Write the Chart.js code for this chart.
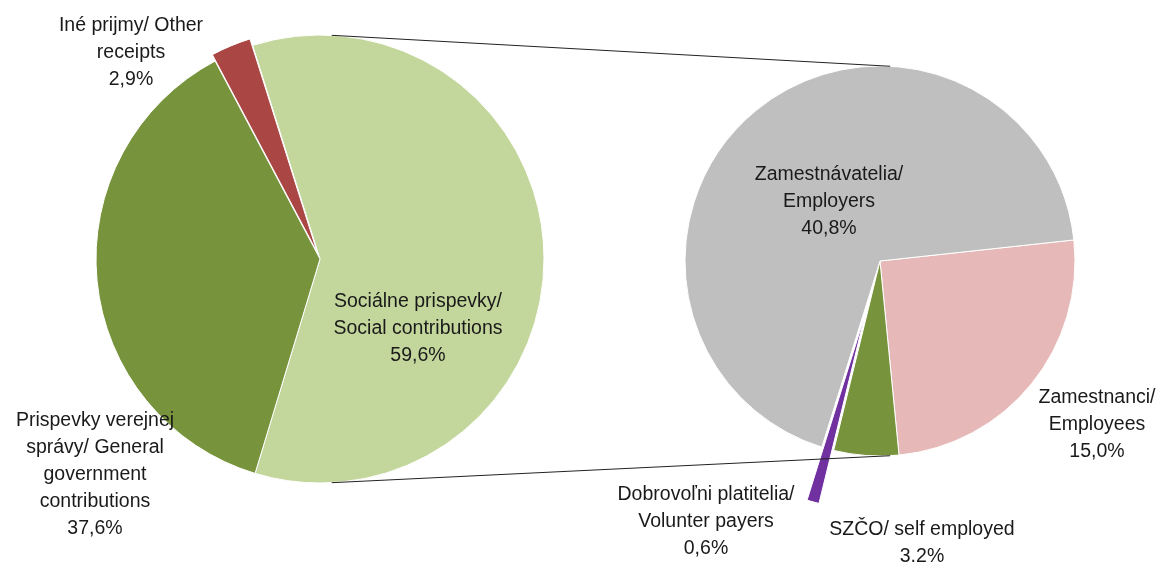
<!DOCTYPE html>
<html>
<head>
<meta charset="utf-8">
<script src="https://cdn.jsdelivr.net/npm/chart.js@4.4.1/dist/chart.umd.min.js"></script>
<style>
    html, body { margin: 0; padding: 0; background: #fff; }
    #wrap { position: relative; width: 1159px; height: 562px; }
    #wrap canvas { position: absolute; left: 0; top: 0; }
</style>
</head>
<body>
<div id="wrap">
    <canvas id="mainPie" width="1159" height="562"></canvas>
    <canvas id="subPie" width="1159" height="562"></canvas>
</div>
<script>
// --- Data: main pie (share of total receipts, %) ---
const mainLabels = [
    ["Sociálne prispevky/", "Social contributions"],
    ["Prispevky verejnej", "správy/ General", "government", "contributions"],
    ["Iné prijmy/ Other", "receipts"]
];
const mainValues = [59.6, 37.6, 2.9];

// --- Data: breakdown of social contributions (share of total, %) ---
const subLabels = [
    ["Zamestnanci/", "Employees"],
    ["SZČO/ self employed"],
    ["Dobrovoľni platitelia/", "Volunter payers"],
    ["Zamestnávatelia/", "Employers"]
];
const subValues = [15.0, 3.2, 0.6, 40.8];

// styling
const mainColors = ["#C3D69B", "#77933C", "#AA4643"];
const subColors = ["#E6B9B8", "#77933C", "#7030A0", "#BFBFBF"];
const FONT = "19.5px 'Liberation Sans', Arial, sans-serif";
const LINE_H = 26.8;

// label anchor points (centre of text block, first line)
const mainLabelPos = [{ x: 418, y: 302 }, { x: 95, y: 421 }, { x: 131, y: 26 }];
const subLabelPos = [{ x: 1097, y: 398 }, { x: 922, y: 530 }, { x: 706, y: 495 }, { x: 829, y: 175 }];

function fmt(v) {
    return v.toFixed(1).replace(".", ",") + "%";
}

function labelPlugin(labels, values, positions) {
    return {
        id: "sliceLabels",
        afterDraw(chart) {
            const ctx = chart.ctx;
            ctx.save();
            ctx.font = FONT;
            ctx.fillStyle = "#1a1a1a";
            ctx.textAlign = "center";
            ctx.textBaseline = "middle";
            labels.forEach((lines, i) => {
                const all = lines.concat([fmt(values[i])]);
                all.forEach((t, j) => {
                    ctx.fillText(t, positions[i].x, positions[i].y + j * LINE_H);
                });
            });
            ctx.restore();
        }
    };
}

// pull a slice out of the pie without shrinking it (Excel-style explosion)
function explodePlugin(shifts) {
    return {
        id: "explode",
        afterUpdate(chart) {
            chart.getDatasetMeta(0).data.forEach((arc, i) => {
                const d = shifts[i];
                if (!d) return;
                const mid = (arc.startAngle + arc.endAngle) / 2;
                arc.x += Math.cos(mid) * d;
                arc.y += Math.sin(mid) * d;
            });
        }
    };
}

const baseOptions = {
    responsive: false,
    animation: false,
    events: [],
    plugins: { legend: { display: false }, tooltip: { enabled: false } }
};

// --- 1. Main pie ---
const mainChart = new Chart(document.getElementById("mainPie").getContext("2d"), {
    type: "pie",
    data: {
        labels: mainLabels.map(l => l.join(" ")),
        datasets: [{
            data: mainValues,
            backgroundColor: mainColors,
            borderColor: "#fff",
            borderWidth: 1,
            hoverOffset: 0
        }]
    },
    options: Object.assign({}, baseOptions, {
        rotation: -17.5,
        radius: 224,
        layout: { padding: { left: 96, right: 615, top: 35, bottom: 79 } }
    }),
    plugins: [explodePlugin([0, 0, 7]), labelPlugin(mainLabels, mainValues, mainLabelPos)]
});

// --- 2. Connector lines between the pies ---
const connectorPlugin = {
    id: "connectors",
    afterDraw(chart) {
        const a = mainChart.getDatasetMeta(0).data[0];
        const b = chart.getDatasetMeta(0).data[0];
        const ctx = chart.ctx;
        ctx.save();
        ctx.strokeStyle = "#222";
        ctx.lineWidth = 1;
        [3, 177].forEach(deg => {
            const r = deg * Math.PI / 180;
            ctx.beginPath();
            ctx.moveTo(a.x + a.outerRadius * Math.sin(r), a.y - a.outerRadius * Math.cos(r));
            ctx.lineTo(b.x + b.outerRadius * Math.sin(r), b.y - b.outerRadius * Math.cos(r));
            ctx.stroke();
        });
        ctx.restore();
    }
};

// --- 3. Secondary pie ---
const subChart = new Chart(document.getElementById("subPie").getContext("2d"), {
    type: "pie",
    data: {
        labels: subLabels.map(l => l.join(" ")),
        datasets: [{
            data: subValues,
            backgroundColor: subColors,
            borderColor: "#fff",
            borderWidth: 1,
            hoverOffset: 0
        }]
    },
    options: Object.assign({}, baseOptions, {
        rotation: 83.8,
        radius: 195,
        layout: { padding: { left: 685, right: 84, top: 66, bottom: 106 } }
    }),
    plugins: [explodePlugin([0, 0, 55, 0]), connectorPlugin, labelPlugin(subLabels, subValues, subLabelPos)]
});
</script>
</body>
</html>
